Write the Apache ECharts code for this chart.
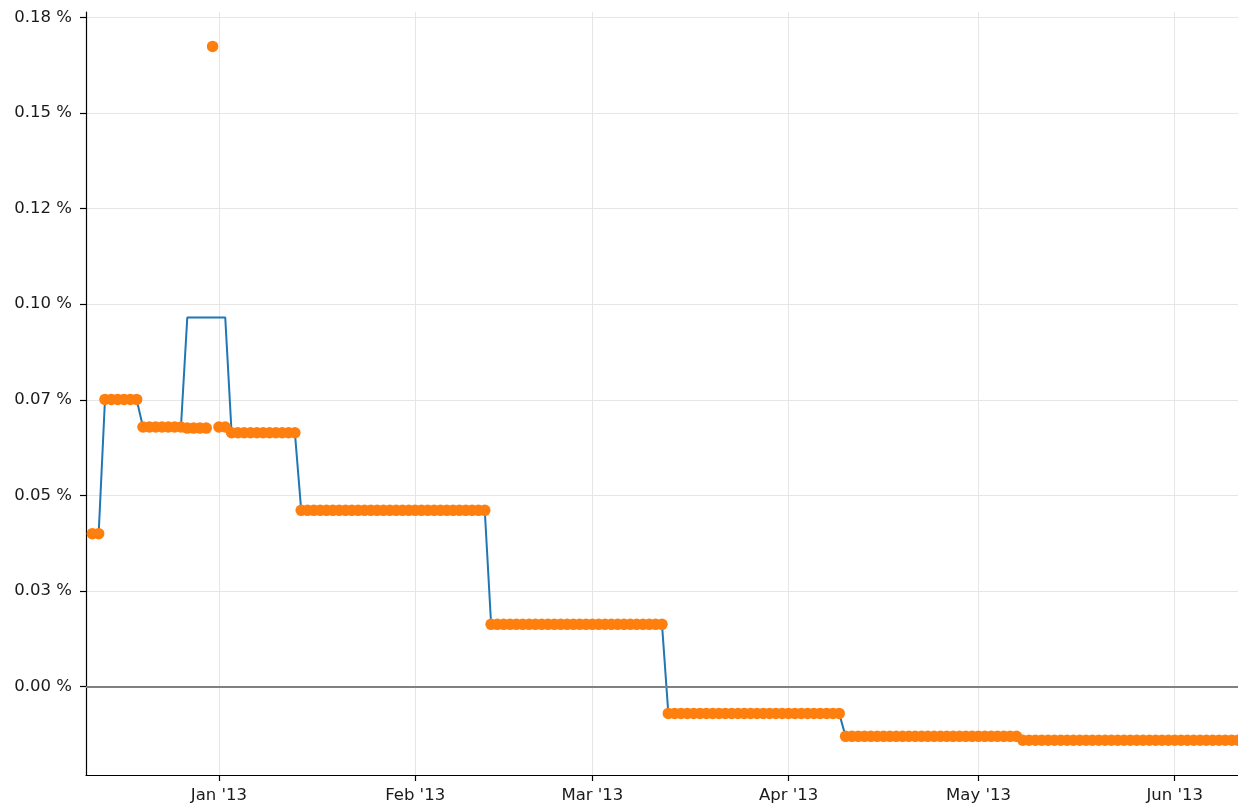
<!DOCTYPE html>
<html>
<head>
<meta charset="utf-8">
<script src="https://cdn.jsdelivr.net/npm/echarts@6/dist/echarts.min.js"></script>
<style>
  html, body { margin: 0; padding: 0; background: #fff; }
  #chart { width: 1238px; height: 807px; }
</style>
</head>
<body>
<div id="chart"></div>
<script>
// one value per day, first day is 12 Dec 2012 (values in %)
const firstDay = [2012, 11, 12];

const orangeVals = [
  0.0400, 0.0400,                                         // Dec 12-13
  0.0751, 0.0751, 0.0751, 0.0751, 0.0751, 0.0751,         // Dec 14-19
  0.0679, 0.0679, 0.0679, 0.0679, 0.0679, 0.0679, 0.0679, // Dec 20-26
  0.0676, 0.0676, 0.0676, 0.0676,                         // Dec 27-30
  0.1674,                                                 // Dec 31
  0.0679, 0.0679,                                         // Jan 1-2
  0.0664, 0.0664, 0.0664, 0.0664, 0.0664, 0.0664, 0.0664, 0.0664, 0.0664, 0.0664, 0.0664, // Jan 3-13
  0.0461, 0.0461, 0.0461, 0.0461, 0.0461, 0.0461, 0.0461, 0.0461, 0.0461, 0.0461,
  0.0461, 0.0461, 0.0461, 0.0461, 0.0461, 0.0461, 0.0461, 0.0461, 0.0461, 0.0461,
  0.0461, 0.0461, 0.0461, 0.0461, 0.0461, 0.0461, 0.0461, 0.0461, 0.0461, 0.0461, // Jan 14 - Feb 12
  0.0163, 0.0163, 0.0163, 0.0163, 0.0163, 0.0163, 0.0163, 0.0163, 0.0163, 0.0163,
  0.0163, 0.0163, 0.0163, 0.0163, 0.0163, 0.0163, 0.0163, 0.0163, 0.0163, 0.0163,
  0.0163, 0.0163, 0.0163, 0.0163, 0.0163, 0.0163, 0.0163, 0.0163,                 // Feb 13 - Mar 12
  -0.0070, -0.0070, -0.0070, -0.0070, -0.0070, -0.0070, -0.0070, -0.0070, -0.0070, -0.0070,
  -0.0070, -0.0070, -0.0070, -0.0070, -0.0070, -0.0070, -0.0070, -0.0070, -0.0070, -0.0070,
  -0.0070, -0.0070, -0.0070, -0.0070, -0.0070, -0.0070, -0.0070, -0.0070,         // Mar 13 - Apr 9
  -0.0130, -0.0130, -0.0130, -0.0130, -0.0130, -0.0130, -0.0130, -0.0130, -0.0130, -0.0130,
  -0.0130, -0.0130, -0.0130, -0.0130, -0.0130, -0.0130, -0.0130, -0.0130, -0.0130, -0.0130,
  -0.0130, -0.0130, -0.0130, -0.0130, -0.0130, -0.0130, -0.0130, -0.0130,         // Apr 10 - May 7
  -0.0140, -0.0140, -0.0140, -0.0140, -0.0140, -0.0140, -0.0140, -0.0140, -0.0140, -0.0140,
  -0.0140, -0.0140, -0.0140, -0.0140, -0.0140, -0.0140, -0.0140, -0.0140, -0.0140, -0.0140,
  -0.0140, -0.0140, -0.0140, -0.0140, -0.0140, -0.0140, -0.0140, -0.0140, -0.0140, -0.0140,
  -0.0140, -0.0140, -0.0140, -0.0140, -0.0140                                     // May 8 - Jun 11
];

const blueVals = [
  0.0400, 0.0400,
  0.0751, 0.0751, 0.0751, 0.0751, 0.0751, 0.0751,
  0.0679, 0.0679, 0.0679, 0.0679, 0.0679, 0.0679, 0.0679,
  0.0965, 0.0965, 0.0965, 0.0965,                         // Dec 27-30
  0.0965,                                                 // Dec 31
  0.0965, 0.0965,                                         // Jan 1-2
  0.0664, 0.0664, 0.0664, 0.0664, 0.0664, 0.0664, 0.0664, 0.0664, 0.0664, 0.0664, 0.0664,
  0.0461, 0.0461, 0.0461, 0.0461, 0.0461, 0.0461, 0.0461, 0.0461, 0.0461, 0.0461,
  0.0461, 0.0461, 0.0461, 0.0461, 0.0461, 0.0461, 0.0461, 0.0461, 0.0461, 0.0461,
  0.0461, 0.0461, 0.0461, 0.0461, 0.0461, 0.0461, 0.0461, 0.0461, 0.0461, 0.0461,
  0.0163, 0.0163, 0.0163, 0.0163, 0.0163, 0.0163, 0.0163, 0.0163, 0.0163, 0.0163,
  0.0163, 0.0163, 0.0163, 0.0163, 0.0163, 0.0163, 0.0163, 0.0163, 0.0163, 0.0163,
  0.0163, 0.0163, 0.0163, 0.0163, 0.0163, 0.0163, 0.0163, 0.0163,
  -0.0070, -0.0070, -0.0070, -0.0070, -0.0070, -0.0070, -0.0070, -0.0070, -0.0070, -0.0070,
  -0.0070, -0.0070, -0.0070, -0.0070, -0.0070, -0.0070, -0.0070, -0.0070, -0.0070, -0.0070,
  -0.0070, -0.0070, -0.0070, -0.0070, -0.0070, -0.0070, -0.0070, -0.0070,
  -0.0130, -0.0130, -0.0130, -0.0130, -0.0130, -0.0130, -0.0130, -0.0130, -0.0130, -0.0130,
  -0.0130, -0.0130, -0.0130, -0.0130, -0.0130, -0.0130, -0.0130, -0.0130, -0.0130, -0.0130,
  -0.0130, -0.0130, -0.0130, -0.0130, -0.0130, -0.0130, -0.0130, -0.0130,
  -0.0140, -0.0140, -0.0140, -0.0140, -0.0140, -0.0140, -0.0140, -0.0140, -0.0140, -0.0140,
  -0.0140, -0.0140, -0.0140, -0.0140, -0.0140, -0.0140, -0.0140, -0.0140, -0.0140, -0.0140,
  -0.0140, -0.0140, -0.0140, -0.0140, -0.0140, -0.0140, -0.0140, -0.0140, -0.0140, -0.0140,
  -0.0140, -0.0140, -0.0140, -0.0140, -0.0140
];

const yTicks = [0, 0.025, 0.05, 0.075, 0.1, 0.125, 0.15, 0.175];
const yTickLabels = ["0.00 %", "0.03 %", "0.05 %", "0.07 %", "0.10 %", "0.12 %", "0.15 %", "0.18 %"];
const xTickMonths = [[2013, 0], [2013, 1], [2013, 2], [2013, 3], [2013, 4], [2013, 5]];
const xTickLabels = ["Jan '13", "Feb '13", "Mar '13", "Apr '13", "May '13", "Jun '13"];

const day = (i) => new Date(firstDay[0], firstDay[1], firstDay[2] + i).getTime();
const blueData = blueVals.map((v, i) => [day(i), v]);
const orangeData = orangeVals.map((v, i) => [day(i), v]);
const xTicks = xTickMonths.map((m) => new Date(m[0], m[1], 1).getTime());

const font = "DejaVu Sans";
const chart = echarts.init(document.getElementById("chart"));
chart.setOption({
  animation: false,
  grid: { left: 86, right: 0, top: 12, bottom: 32, outerBoundsMode: "none" },
  xAxis: {
    // timestamps on a value axis so the month ticks can be placed exactly
    type: "value",
    min: new Date(2012, 11, 11).getTime(),
    max: new Date(2013, 5, 11).getTime(),
    axisLine: { onZero: false, lineStyle: { color: "#000", width: 1.2 } },
    axisTick: { show: true, length: 6, customValues: xTicks, lineStyle: { color: "#000", width: 1.2 } },
    axisLabel: {
      customValues: xTicks,
      color: "#1a1a1a",
      fontFamily: font,
      fontSize: 16.5,
      margin: 12,
      formatter: (v) => xTickLabels[xTicks.indexOf(v)] || "",
    },
    splitLine: { show: true, lineStyle: { color: "#e6e6e6", width: 1 } },
  },
  yAxis: {
    type: "value",
    min: -0.0231,
    max: 0.1764,
    axisLine: { show: true, lineStyle: { color: "#000", width: 1.2 } },
    axisTick: { show: true, length: 6, customValues: yTicks, lineStyle: { color: "#000", width: 1.2 } },
    axisLabel: {
      customValues: yTicks,
      color: "#1a1a1a",
      fontFamily: font,
      fontSize: 16.5,
      margin: 14,
      formatter: (v) => {
        const k = yTicks.findIndex((t) => Math.abs(t - v) < 1e-9);
        return k >= 0 ? yTickLabels[k] : "";
      },
    },
    splitLine: { show: true, lineStyle: { color: "#e6e6e6", width: 1 } },
  },
  series: [
    {
      type: "line",
      data: blueData,
      showSymbol: false,
      lineStyle: { color: "#1f77b4", width: 2 },
      itemStyle: { color: "#1f77b4" },
      z: 2,
      markLine: {
        silent: true,
        symbol: "none",
        label: { show: false },
        lineStyle: { color: "#808080", width: 1.8, type: "solid" },
        data: [{ yAxis: 0 }],
      },
    },
    {
      type: "scatter",
      data: orangeData,
      symbolSize: 11.5,
      itemStyle: { color: "#ff7f0e", opacity: 1 },
      z: 3,
    },
  ],
});
</script>
</body>
</html>
